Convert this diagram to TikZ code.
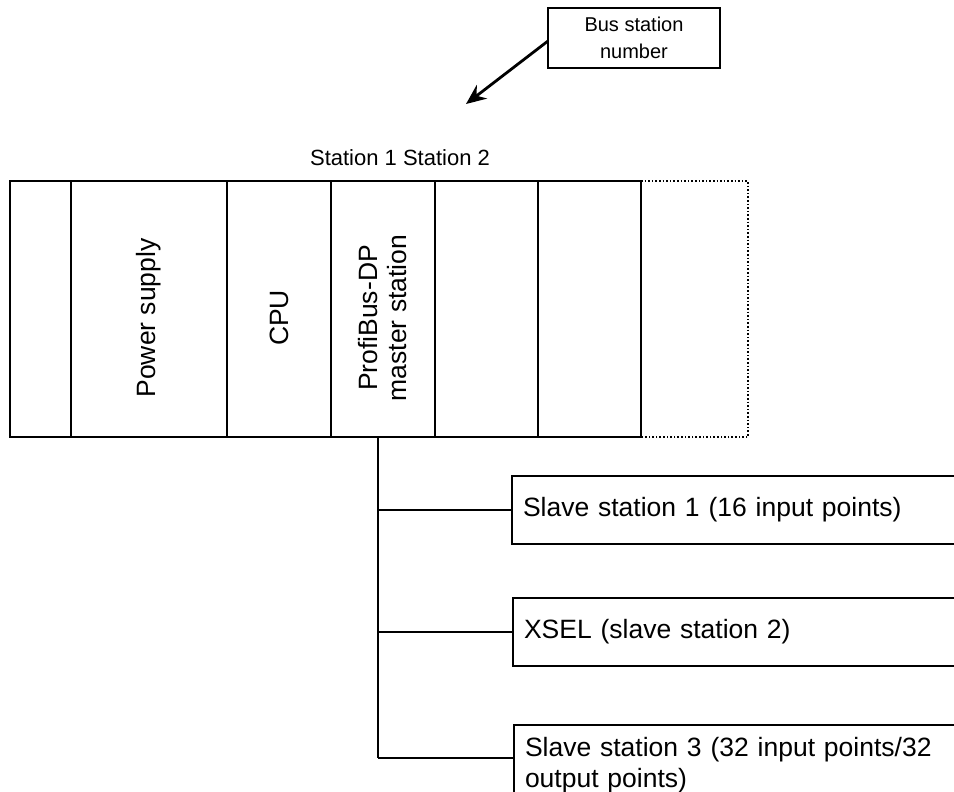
\documentclass[tikz,border=0pt]{standalone}
\usepackage{fontspec}
\setmainfont{Liberation Sans}
\usetikzlibrary{arrows.meta}
\begin{document}
\begin{tikzpicture}[x=1pt,y=-1pt,
  every node/.style={inner sep=0pt,outer sep=0pt},
  module/.style={draw,line width=2.4pt,minimum height=256pt},
  slave/.style={draw,line width=2.4pt,anchor=north west,minimum width=470pt,
    text width=448pt,inner xsep=11pt,align=left,font=\fontsize{26.5}{31}\selectfont},
  vtext/.style={rotate=90,align=center,font=\fontsize{26.5}{29}\selectfont},
  wire/.style={line width=2.6pt}]
\clip (0,0) rectangle (954,792);
\fill[white] (0,0) rectangle (954,792);
% rack
\node[module,minimum width=61pt] (m0) at (40.5,309) {};
\node[module,minimum width=156pt] (m1) at (149,309) {};
\node[module,minimum width=104pt] (m2) at (279,309) {};
\node[module,minimum width=104pt] (m3) at (383,309) {};
\node[module,minimum width=103pt] (m4) at (486.5,309) {};
\node[module,minimum width=103pt] (m5) at (589.5,309) {};
\draw[line width=1.6pt,dotted] (m5.north east) -- (748,181) -- (748,437) -- (m5.south east);
\node[vtext] (t1) at ([yshift=-9pt]m1.center) {Power supply};
\node[vtext] (t2) at ([yshift=-9pt]m2.center) {CPU};
\node[vtext] (t3) at ([yshift=-9pt]m3.center) {ProfiBus-DP\\master station};
% labels
\node[font=\fontsize{22}{26}\selectfont] (st) at (400,158) {Station 1 Station 2};
\node[draw,line width=2pt,minimum width=172pt,minimum height=60pt,align=center,
  font=\fontsize{20}{27}\selectfont] (bus) at (634,38) {Bus station\\number};
\coordinate (tip) at (466,104);
\draw[line width=2.8pt,-{Stealth[length=20pt,width=17pt]}] ([yshift=-3pt]bus.west) -- (tip);
% slaves
\node[slave,minimum height=68pt] (s1) at (512,476) {Slave station 1 (16 input points)};
\node[slave,minimum height=68pt] (s2) at (513,598) {XSEL (slave station 2)};
\node[slave,minimum height=80pt] (s3) at (514,725) {Slave station 3 (32 input points/32\\output points)};
% bus wiring
\coordinate (bt) at (378,437);
\coordinate (bb) at (378,758);
\draw[wire] (bt) -- (bb);
\draw[wire] (bt |- s1.west) -- (s1.west);
\draw[wire] (bt |- s2.west) -- (s2.west);
\draw[wire] (bb) -- (bb -| s3.west);
\end{tikzpicture}
\end{document}
